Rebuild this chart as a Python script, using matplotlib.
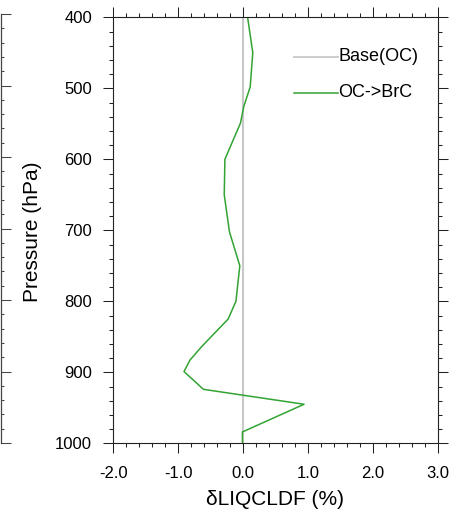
#!/usr/bin/env python3
"""Vertical profile of delta liquid cloud fraction, OC->BrC vs Base(OC)."""

import matplotlib

matplotlib.use("Agg")
import matplotlib.pyplot as plt
from matplotlib.lines import Line2D
from matplotlib.ticker import MultipleLocator, FormatStrFormatter

plt.rcParams["font.family"] = ["Liberation Sans", "DejaVu Sans"]

# profile
PRESSURE = [400, 450, 498, 526, 549, 600, 650, 702, 750, 800, 825, 864, 883, 899, 924, 945, 984, 1000]
DELTA_BRC = [0.07, 0.15, 0.11, 0.01, -0.04, -0.28, -0.29, -0.21, -0.05, -0.11, -0.23, -0.64, -0.82, -0.91, -0.61, 0.94, -0.01, -0.01]
BASE_X = [0.0, 0.0]
BASE_P = [400, 1000]

XTICKS = [-2.0, -1.0, 0.0, 1.0, 2.0, 3.0]
YTICKS = [400, 500, 600, 700, 800, 900, 1000]

GREEN = "#33a333"
BASE_GRAY = "#c8c8c8"
AXIS_COLOR = "#222222"

W, H = 464, 512


def style_ticks(ax, which_sides):
    ax.tick_params(which="major", direction="out", length=7.2, width=0.75, color=AXIS_COLOR, **which_sides)
    ax.tick_params(which="minor", direction="out", length=2.9, width=0.75, color=AXIS_COLOR, **which_sides)


fig = plt.figure(figsize=(W / 100, H / 100), dpi=100)

# cropped neighbour panel: only its right spine shows at the left edge
nb = fig.add_axes([(1 - 300) / W, 1 - 443 / H, 300 / W, 429 / H])
nb.set_ylim(1000, 400)
nb.set_xlim(0, 1)
for side in ("left", "top", "bottom"):
    nb.spines[side].set_visible(False)
nb.spines["right"].set_color("#444444")
nb.spines["right"].set_linewidth(0.9)
nb.yaxis.set_major_locator(MultipleLocator(100))
nb.yaxis.set_minor_locator(MultipleLocator(20))
nb.yaxis.tick_right()
nb.tick_params(which="major", direction="out", length=7.2, width=0.75, color="#444444",
               labelright=False, right=True, left=False)
nb.tick_params(which="minor", direction="out", length=2.3, width=0.75, color="#444444",
               right=True, left=False)
nb.set_xticks([])
nb.patch.set_visible(False)

ax = fig.add_axes([113.3 / W, 1 - 443.3 / H, 324.4 / W, 426.0 / H])
ax.plot(BASE_X, BASE_P, color=BASE_GRAY, lw=1.5, solid_capstyle="butt")
ax.plot(DELTA_BRC, PRESSURE, color=GREEN, lw=1.1)

ax.set_xlim(-2.0, 3.0)
ax.set_ylim(1000, 400)
ax.set_xticks(XTICKS)
ax.set_yticks(YTICKS)
ax.xaxis.set_major_formatter(FormatStrFormatter("%.1f"))
ax.xaxis.set_minor_locator(MultipleLocator(0.2))
ax.yaxis.set_minor_locator(MultipleLocator(20))
style_ticks(ax, dict(top=True, right=True, bottom=True, left=True))
ax.tick_params(axis="y", which="major", labelsize=12, pad=8.2)
ax.tick_params(axis="x", which="major", labelsize=12, pad=8.8)
for sp in ax.spines.values():
    sp.set_color(AXIS_COLOR)
    sp.set_linewidth(0.8)

ax.set_ylabel("Pressure (hPa)", fontsize=15, va="center")
ax.yaxis.set_label_coords(-0.2506, 0.496)
ax.set_xlabel("δLIQCLDF (%)", fontsize=15, va="center")
ax.xaxis.set_label_coords(0.5, -0.133)

# legend drawn by hand to match the NCL layout
for y, color, label in [(0.9075, BASE_GRAY, "Base(OC)"), (0.823, GREEN, "OC->BrC")]:
    ax.add_line(Line2D([0.558, 0.6936], [y, y], transform=ax.transAxes, color=color,
                       lw=1.1 if color == GREEN else 1.3))
    ax.text(0.6945, y, label, transform=ax.transAxes, fontsize=13, va="center", ha="left")

fig.savefig("out.png", dpi=100)
